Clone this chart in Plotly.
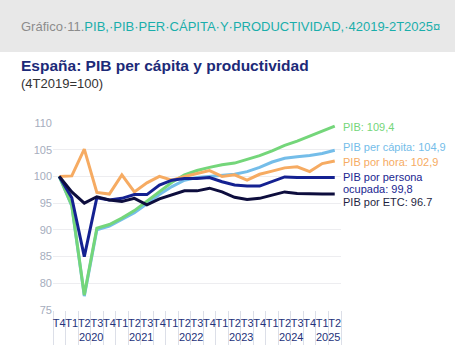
import plotly.graph_objects as go

years = ["2020", "2021", "2022", "2023", "2024", "2025"]
quarters = ["T4", "T1", "T2", "T3", "T4", "T1", "T2", "T3", "T4",
            "T1", "T2", "T3", "T4", "T1", "T2", "T3", "T4",
            "T1", "T2", "T3", "T4", "T1", "T2"]

pib = [100, 94.6, 77.8, 90.3, 91.0, 92.2, 93.6, 95.4, 97.2, 98.9, 100.3, 101.1,
       101.7, 102.2, 102.5, 103.2, 103.9, 104.8, 105.8, 106.6, 107.5, 108.5, 109.4]
pib_capita = [100, 94.5, 77.6, 90.0, 90.7, 91.9, 93.2, 94.9, 96.6, 98.1, 99.3, 99.8,
              100.0, 100.2, 100.4, 100.9, 101.7, 102.7, 103.4, 103.7, 103.9, 104.3, 104.9]
pib_hora = [100, 100.1, 105.1, 97.0, 96.7, 100.3, 97.1, 98.8, 100.0, 99.3, 100.0, 100.5,
            101.1, 100.0, 100.3, 99.3, 100.4, 101.0, 101.6, 101.8, 100.9, 102.4, 102.9]
pib_ocupada = [100, 96.0, 85.0, 96.0, 95.6, 95.9, 96.6, 96.6, 98.4, 99.3, 99.6, 99.6,
               99.8, 99.0, 98.4, 98.2, 98.2, 99.0, 99.9, 99.8, 99.8, 99.8, 99.8]
pib_etc = [100, 97.1, 95.0, 96.2, 95.6, 95.3, 95.9, 94.7, 95.8, 96.5, 97.3, 97.3,
           97.8, 97.1, 96.1, 95.7, 95.9, 96.5, 97.1, 96.8, 96.7, 96.7, 96.7]

series = [
    ("PIB per cápita", pib_capita, "#74bde9"),
    ("PIB", pib, "#74d67a"),
    ("PIB por hora", pib_hora, "#f6ab62"),
    ("PIB por persona ocupada", pib_ocupada, "#142191"),
    ("PIB por ETC", pib_etc, "#0d0d3d"),
]

# end labels: text, pixel row centre, colour
labels = [
    ("PIB: 109,4", 126.7, "#74d67a"),
    ("PIB per cápita: 104,9", 146.7, "#74bde9"),
    ("PIB por hora: 102,9", 162.3, "#f6ab62"),
    ("PIB por persona", 177.3, "#1a2590"),
    ("ocupada: 99,8", 189.3, "#1a2590"),
    ("PIB por ETC: 96.7", 201.7, "#1f1f3f"),
]

FONT = "Liberation Sans, Arial, sans-serif"

xs = list(range(len(quarters)))

fig = go.Figure()
for name, vals, col in series:
    fig.add_trace(go.Scatter(x=xs, y=vals, mode="lines", name=name,
                             line=dict(color=col, width=3), showlegend=False))

L, R, T, B = 53, 117, 123, 40
W, H = 458, 350
pw, ph = W - L - R, H - T - B

def px(X):
    return (X - L) / pw

def py(Y):
    return (H - B - Y) / ph

shapes = [dict(type="rect", xref="paper", yref="paper",
               x0=px(0), x1=px(455), y0=py(52), y1=py(0),
               fillcolor="#e8e8e8", line=dict(width=0), layer="below")]

annotations = [
    dict(xref="paper", yref="paper", x=px(19), y=py(27), xanchor="left", yanchor="middle",
         showarrow=False, font=dict(family=FONT, size=13),
         text='<span style="color:#8c8c8c">Gráfico·11.</span>'
              '<span style="color:#1aaeab">PIB,·PIB·PER·CÁPITA·Y·PRODUCTIVIDAD,·42019-2T2025¤</span>'),
    dict(xref="paper", yref="paper", x=px(19), y=py(66), xanchor="left", yanchor="middle",
         showarrow=False, font=dict(family=FONT, size=15.5, color="#1c2a78"),
         text="<b>España: PIB per cápita y productividad</b>"),
    dict(xref="paper", yref="paper", x=px(19), y=py(83), xanchor="left", yanchor="middle",
         showarrow=False, font=dict(family=FONT, size=13, color="#333333"),
         text="(4T2019=100)"),
]
for txt, Y, col in labels:
    annotations.append(dict(xref="paper", yref="paper", x=px(341), y=py(Y), xanchor="left",
                            yanchor="middle", showarrow=False, align="left",
                            font=dict(family=FONT, size=11, color=col), text=txt))

# year labels centred under their quarters
for yr in years:
    idx = [i for i in range(1, len(quarters)) if (i - 1) // 4 == years.index(yr)]
    annotations.append(dict(xref="x", yref="paper", x=sum(idx) / len(idx), y=py(337),
                            xanchor="center", yanchor="middle", showarrow=False,
                            font=dict(family=FONT, size=11, color="#25327a"), text=yr))

fig.update_layout(
    width=W, height=H, margin=dict(l=L, r=R, t=T, b=B),
    paper_bgcolor="white", plot_bgcolor="white",
    font=dict(family=FONT),
    shapes=shapes, annotations=annotations,
    xaxis=dict(range=[-0.5, 22.5], tickmode="array", tickvals=xs, ticktext=quarters,
               tickangle=0, ticks="", showgrid=False, zeroline=False, showline=False,
               ticklabelstandoff=5,
               tickfont=dict(family=FONT, size=11, color="#25327a"),
               minor=dict(tick0=-0.5, dtick=1, ticks="outside",
                          ticklen=34, tickcolor="#dcdfe8", tickwidth=1, showgrid=False)),
    yaxis=dict(range=[75, 110], dtick=5, tick0=75, showgrid=True, gridcolor="#ededf0",
               gridwidth=1, zeroline=False, showline=False,
               tickfont=dict(family=FONT, size=11, color="#a5adbd"), ticks=""),
)

fig.write_html("out.html")
